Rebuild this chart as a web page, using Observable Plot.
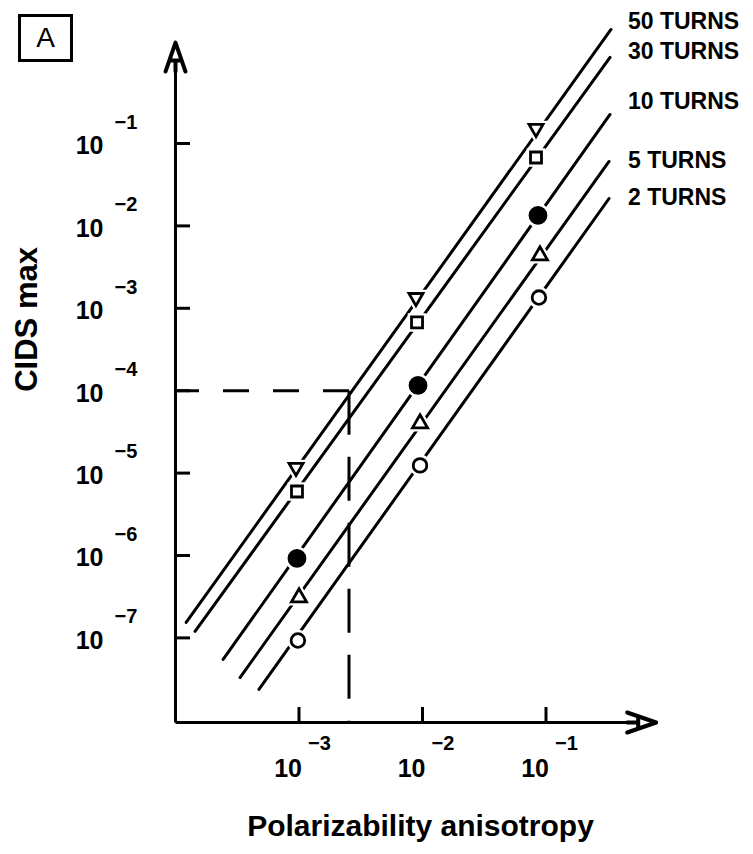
<!DOCTYPE html>
<html><head><meta charset="utf-8">
<script src="https://cdn.jsdelivr.net/npm/d3@7"></script>
<script src="https://cdn.jsdelivr.net/npm/@observablehq/plot@0.6"></script>
<style>
body{margin:0;background:#fff;}
#wrap{position:relative;width:753px;height:854px;}
#tag{position:absolute;left:18px;top:14px;width:49px;height:42px;border:3px solid #000;font:28px "Liberation Sans",Arial,sans-serif;display:flex;align-items:center;justify-content:center;z-index:2;}
</style></head><body>
<div id="wrap"><div id="tag">A</div></div>
<script>
// Series
const series = ["50 TURNS", "30 TURNS", "10 TURNS", "5 TURNS", "2 TURNS"];
// Measured points (polarizability anisotropy, CIDS max) per series
const pointX = [
  [0.000946, 0.00885, 0.083],
  [0.000963, 0.00903, 0.083],
  [0.000963, 0.0092, 0.0861],
  [0.001, 0.00955, 0.0893],
  [0.00098, 0.00955, 0.0877]
];
const pointY = [
  [1.17e-5, 1.35e-3, 0.152],
  [5.98e-6, 6.73e-4, 0.0676],
  [9.2e-7, 1.16e-4, 0.0134],
  [3.09e-7, 4.0e-5, 4.37e-3],
  [9.3e-8, 1.24e-5, 1.35e-3]
];
// Fitted line end points per series
const lineX1 = [1.22e-4, 1.44e-4, 2.43e-4, 3.33e-4, 4.74e-4];
const lineY1 = [1.54e-7, 1.20e-7, 5.47e-8, 3.30e-8, 2.37e-8];
const lineX2 = [0.336, 0.330, 0.330, 0.324, 0.324];
const lineY2 = [2.42, 1.11, 0.225, 0.0605, 0.0215];
// Series label anchors
const labelX = [0.461, 0.461, 0.461, 0.461, 0.461];
const labelY = [2.98, 1.31, 0.324, 0.0622, 0.0218];
// Ticks
const xTicks = [1e-3, 1e-2, 1e-1];
const xTickExp = ["\u22123", "\u22122", "\u22121"];
const yTicks = [1e-1, 1e-2, 1e-3, 1e-4, 1e-5, 1e-6, 1e-7];
const yTickExp = ["\u22121", "\u22122", "\u22123", "\u22124", "\u22125", "\u22126", "\u22127"];
// Axis extents
const xDomain = [1e-4, 1];
const yDomain = [9.4e-9, 1];
const xAxisEnd = 0.78;
const yAxisEnd = 1.68;
// Dashed guide (reading at CIDS = 1e-4)
const guideX = [2.54e-3];
const guideY = [1e-4];

const W = 753, H = 854, mL = 175, mR = 84, mT = 60.6, mB = 132;
const font = "'Liberation Sans', Arial, sans-serif";
const idx = series.map((_, i) => i);

function buildMarks(headShape) {
  const marks = [];
  // fitted lines
  marks.push(Plot.link(idx, {
    x1: i => lineX1[i], y1: i => lineY1[i], x2: i => lineX2[i], y2: i => lineY2[i],
    stroke: "black", strokeWidth: 3, strokeLinecap: "round"
  }));
  // dashed guide
  marks.push(Plot.link(idx.slice(0, 1), {
    x1: i => guideX[i], y1: i => guideY[i], x2: () => xDomain[0], y2: i => guideY[i],
    stroke: "black", strokeWidth: 3, strokeDasharray: "26,24"
  }));
  marks.push(Plot.link(idx.slice(0, 1), {
    x1: i => guideX[i], y1: i => guideY[i], x2: i => guideX[i], y2: () => yDomain[0],
    stroke: "black", strokeWidth: 3, strokeDasharray: "44,22"
  }));
  // markers
  const sym = ["triangle", "square", "circle", "triangle", "circle"];
  const rad = [5.2, 6.2, 8, 5.6, 6.8];
  const rot = [180, 0, 0, 0, 0];
  const filled = [false, false, true, false, false];
  idx.forEach(s => {
    const pts = pointX[s].map((x, j) => ({x, y: pointY[s][j]}));
    marks.push(Plot.dot(pts, {x: "x", y: "y", symbol: sym[s], r: rad[s] + 1.5, rotate: rot[s],
      fill: "white", stroke: "white", strokeWidth: 5}));
    marks.push(Plot.dot(pts, {x: "x", y: "y", symbol: sym[s], r: rad[s], rotate: rot[s],
      fill: filled[s] ? "black" : "white", stroke: "black", strokeWidth: 2.8}));
  });
  // axes
  marks.push(Plot.link([0], {x1: () => xDomain[0], y1: () => yDomain[0], x2: () => xDomain[0], y2: () => yAxisEnd,
    stroke: "black", strokeWidth: 3}));
  marks.push(Plot.link([0], {x1: () => xDomain[0], y1: () => yDomain[0], x2: () => xAxisEnd, y2: () => yDomain[0],
    stroke: "black", strokeWidth: 3}));
  // arrowheads
  const headStyle = {anchor: "end", shape: headShape, length: 29, r: 10, fill: "white", stroke: "black",
    strokeWidth: 4, strokeLinejoin: "round", strokeLinecap: "round"};
  marks.push(Plot.vector([0], {x: () => xDomain[0], y: () => yAxisEnd, rotate: 0, ...headStyle}));
  marks.push(Plot.vector([0], {x: () => xAxisEnd, y: () => yDomain[0], rotate: 90, ...headStyle}));
  // ticks
  const frameW = W - mL - mR, frameH = H - mT - mB;
  marks.push(Plot.tickY(yTicks, {y: d => d, insetRight: frameW - 15, stroke: "black", strokeWidth: 3}));
  marks.push(Plot.tickX(xTicks, {x: d => d, insetTop: frameH - 15, stroke: "black", strokeWidth: 3}));
  // tick labels
  marks.push(Plot.text(yTicks, {x: () => xDomain[0], y: d => d, text: () => "10", textAnchor: "end",
    dx: -72, dy: 3, fontSize: 25, fontWeight: "bold"}));
  marks.push(Plot.text(yTicks, {x: () => xDomain[0], y: d => d, text: (d, i) => yTickExp[i], textAnchor: "start",
    dx: -61, dy: -21, fontSize: 20, fontWeight: "bold"}));
  marks.push(Plot.text(xTicks, {x: d => d, y: () => yDomain[0], text: () => "10", textAnchor: "end",
    dx: 3, dy: 46, fontSize: 25, fontWeight: "bold"}));
  marks.push(Plot.text(xTicks, {x: d => d, y: () => yDomain[0], text: (d, i) => xTickExp[i], textAnchor: "start",
    dx: 9, dy: 21, fontSize: 20, fontWeight: "bold"}));
  // axis titles
  marks.push(Plot.text(["CIDS max"], {frameAnchor: "left", text: d => d, dx: -148, rotate: -90,
    fontSize: 31, fontWeight: "bold"}));
  marks.push(Plot.text(["Polarizability anisotropy"], {frameAnchor: "bottom", text: d => d, dx: -2, dy: 113,
    fontSize: 30, fontWeight: "bold", letterSpacing: 0.5}));
  // series labels
  marks.push(Plot.text(idx, {x: i => labelX[i], y: i => labelY[i], text: i => series[i], textAnchor: "start",
    fontSize: 23, fontWeight: "bold"}));
  return marks;
}

// "A"-like arrowhead: two legs meeting at the tip, with a crossbar
const aHead = {
  draw(context, l, r) {
    context.moveTo(-r, 0);
    context.lineTo(0, -l);
    context.lineTo(r, 0);
    context.moveTo(-r * 0.62, -l * 0.38);
    context.lineTo(r * 0.62, -l * 0.38);
    context.moveTo(0, 0);
    context.lineTo(0, -l * 0.38);
  }
};

function render(shape) {
  return Plot.plot({
    width: W, height: H,
    marginLeft: mL, marginRight: mR, marginTop: mT, marginBottom: mB,
    x: {type: "log", domain: xDomain, axis: null},
    y: {type: "log", domain: yDomain, axis: null},
    style: {fontFamily: font, background: "white", color: "black", overflow: "visible"},
    marks: buildMarks(shape)
  });
}
let chart;
try { chart = render(aHead); } catch (e) { chart = render("spike"); }
document.getElementById("wrap").appendChild(chart);
</script>
</body></html>
